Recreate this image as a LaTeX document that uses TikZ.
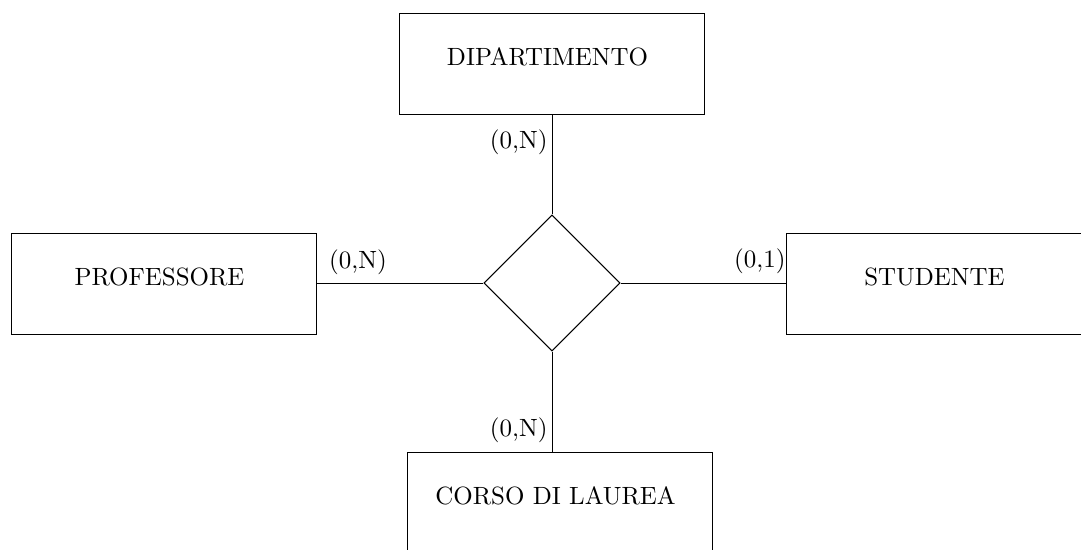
\documentclass[tikz,border=0pt]{standalone}
\usetikzlibrary{shapes.geometric}
\begin{document}
\begin{tikzpicture}[x=0.41667pt,y=-0.41667pt,
  every node/.style={font=\fontsize{10.4}{12.5}\selectfont},
  ent/.style={draw, rectangle, minimum width=126.7pt, minimum height=42.1pt,
    inner sep=0pt, text height=8.3pt, text depth=6.9pt,
    execute at end node={\hspace{3.75pt}}},
  rel/.style={draw, diamond, minimum width=56.7pt, minimum height=56.7pt, inner sep=0pt},
  card/.style={inner sep=0pt}]
\useasboundingbox (0,0) rectangle (1081,549);
\node[ent] (dip) at (552,64) {DIPARTIMENTO};
\node[ent] (prof) at (164,283.5) {PROFESSORE};
\node[ent] (stud) at (939,283.5) {STUDENTE};
\node[ent] (cdl) at (560,502.5) {CORSO DI LAUREA};
\node[rel] (r) at (552,283) {};
\draw (dip.south -| r.north) -- (r.north);
\draw (prof.east |- r.west) -- (r.west);
\draw (r.east) -- (stud.west |- r.east);
\draw (r.south) -- (cdl.north -| r.south);
\node[card, anchor=east] (c1) at (548,142.5) {(0,N)};
\node[card] (c2) at (358,262) {(0,N)};
\node[card, anchor=east] (c3) at (786,261) {(0,1)};
\node[card, anchor=east] (c4) at (548,430) {(0,N)};
\end{tikzpicture}
\end{document}
